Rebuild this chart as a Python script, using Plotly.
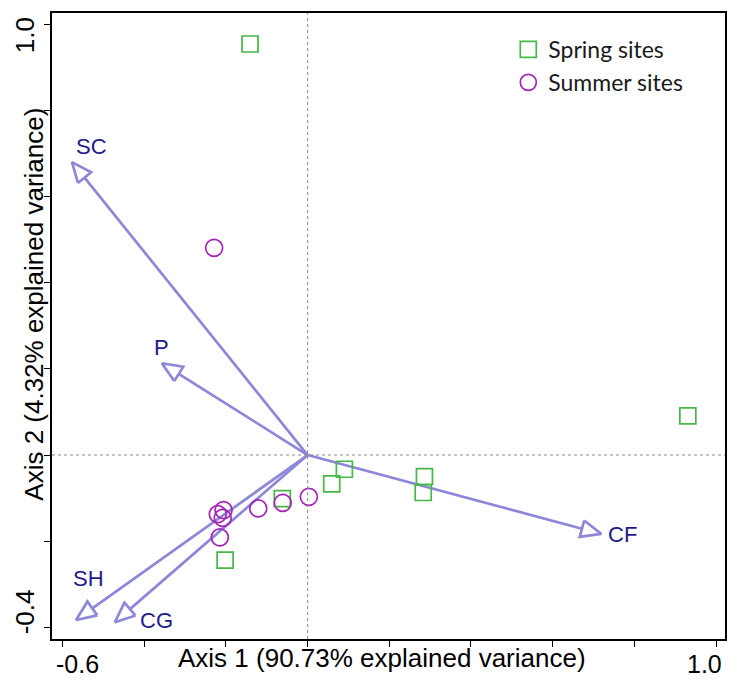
import numpy as np
import plotly.graph_objects as go

# Site scores on the first two axes
spring_x = [-0.141, 0.931, 0.090, 0.059, 0.286, 0.283, -0.062, -0.202]
spring_y = [0.954, 0.091, -0.033, -0.067, -0.050, -0.087, -0.101, -0.244]
summer_x = [-0.229, 0.003, -0.061, -0.121, -0.206, -0.220, -0.208, -0.215]
summer_y = [0.481, -0.097, -0.111, -0.124, -0.128, -0.137, -0.146, -0.191]

# Environmental variable loadings
var_names = ["SC", "P", "SH", "CG", "CF"]
var_x = [-0.577, -0.357, -0.567, -0.472, 0.719]
var_y = [0.680, 0.213, -0.383, -0.388, -0.183]

# Axis ticks
x_ticks = [-0.6, -0.4, -0.2, 0.0, 0.2, 0.4, 0.6, 0.8, 1.0]
y_ticks = [-0.4, -0.2, 0.0, 0.2, 0.4, 0.6, 0.8, 1.0]

# Figure geometry
W, H = 731, 679
ML, MR, MT, MB = 52, 4, 13, 40
X_RANGE = [-0.626, 1.022]
Y_RANGE = [-0.427, 1.026]
kx = (W - ML - MR) / (X_RANGE[1] - X_RANGE[0])
ky = (H - MT - MB) / (Y_RANGE[1] - Y_RANGE[0])

ARROW_COL = "#8C87D8"
LABEL_COL = "#1E1A8C"
AXIS_FONT = "Arial, Liberation Sans, sans-serif"

# Build arrow shafts and open heads (head size in pixels)
HEAD_LEN, HEAD_HALF = 20.0, 8.5
shaft_x, shaft_y, head_x, head_y = [], [], [], []
for tx, ty in zip(var_x, var_y):
    v = np.array([tx * kx, ty * ky])
    u = v / np.linalg.norm(v)
    n = np.array([-u[1], u[0]])
    base = v - HEAD_LEN * u
    c1 = base + HEAD_HALF * n
    c2 = base - HEAD_HALF * n
    shaft_x += [0.0, base[0] / kx, None]
    shaft_y += [0.0, base[1] / ky, None]
    for p in (c1, v, c2, c1):
        head_x.append(p[0] / kx)
        head_y.append(p[1] / ky)
    head_x.append(None)
    head_y.append(None)

fig = go.Figure()

fig.add_trace(go.Scatter(
    x=shaft_x, y=shaft_y, mode="lines",
    line=dict(color=ARROW_COL, width=2.7),
    showlegend=False, hoverinfo="skip"))
fig.add_trace(go.Scatter(
    x=head_x, y=head_y, mode="lines",
    line=dict(color=ARROW_COL, width=2.7),
    showlegend=False, hoverinfo="skip"))

fig.add_trace(go.Scatter(
    x=spring_x, y=spring_y, mode="markers", name="Spring sites",
    legendgroup="spring",
    marker=dict(symbol="square-open", size=16, color="#45B845",
                line=dict(width=1.7))))
fig.add_trace(go.Scatter(
    x=summer_x, y=summer_y, mode="markers", name="Summer sites",
    legendgroup="summer",
    marker=dict(symbol="circle-open", size=17, color="#A524BA",
                line=dict(width=1.7))))

# Variable labels beside the arrow tips (offsets in pixels)
label_shift = {"SC": (19, 16), "P": (0, 16), "SH": (12, 42),
               "CG": (42, 2), "CF": (21, -1)}
for name, tx, ty in zip(var_names, var_x, var_y):
    dx, dy = label_shift[name]
    fig.add_annotation(x=tx, y=ty, text=name, showarrow=False,
                       xanchor="center", yanchor="middle",
                       xshift=dx, yshift=dy,
                       font=dict(family=AXIS_FONT, size=22, color=LABEL_COL))

# Dotted reference lines through the origin
fig.add_shape(type="line", xref="x", yref="paper", x0=0, x1=0, y0=0, y1=1,
              line=dict(color="#8a8a8a", width=1, dash="dot"))
fig.add_shape(type="line", xref="paper", yref="y", x0=0, x1=1, y0=0, y1=0,
              line=dict(color="#8a8a8a", width=1, dash="dot"))

# End tick labels
tick_font = dict(family=AXIS_FONT, size=26, color="black")
centered = dict(showarrow=False, xanchor="center", yanchor="middle",
                borderpad=0, font=tick_font)
small_tick = dict(showarrow=False, xanchor="center", yanchor="middle",
                  borderpad=0,
                  font=dict(family=AXIS_FONT, size=25, color="black"))
fig.add_annotation(x=x_ticks[0], y=0, xref="x", yref="paper", text="-0.6",
                   xshift=15, yshift=-25, **small_tick)
fig.add_annotation(x=x_ticks[-1], y=0, xref="x", yref="paper", text="1.0",
                   xshift=-12, yshift=-25, **small_tick)
fig.add_annotation(x=0, y=y_ticks[-1], xref="paper", yref="y", text="1.0",
                   xshift=-27, yshift=-11, textangle=-90, **centered)
fig.add_annotation(x=0, y=y_ticks[0], xref="paper", yref="y", text="-0.4",
                   xshift=-27, yshift=15, textangle=-90, **centered)

# Axis titles
fig.add_annotation(x=0.491, y=0, xref="paper", yref="paper",
                   text="Axis 1 (90.73% explained variance)",
                   yshift=-19, **centered)
fig.add_annotation(x=0, y=0.534, xref="paper", yref="paper",
                   text="Axis 2 (4.32% explained variance)",
                   xshift=-18, textangle=-90, **centered)

axis_common = dict(showgrid=False, zeroline=False, showline=True,
                   linecolor="black", linewidth=1.5, mirror=True,
                   ticks="outside", ticklen=6, tickwidth=1.2,
                   tickcolor="black", showticklabels=False)
fig.update_xaxes(range=X_RANGE, tickvals=x_ticks, **axis_common)
fig.update_yaxes(range=Y_RANGE, tickvals=y_ticks, **axis_common)

fig.update_layout(
    width=W, height=H,
    margin=dict(l=ML, r=MR, t=MT, b=MB),
    paper_bgcolor="white", plot_bgcolor="white",
    showlegend=True,
    legend=dict(x=0.678, y=0.976, xanchor="left", yanchor="top",
                bgcolor="rgba(0,0,0,0)", tracegroupgap=0,
                font=dict(family="Lato, Open Sans, sans-serif", size=23,
                          color="#1a1a1a")),
)

fig.write_html("out.html")
